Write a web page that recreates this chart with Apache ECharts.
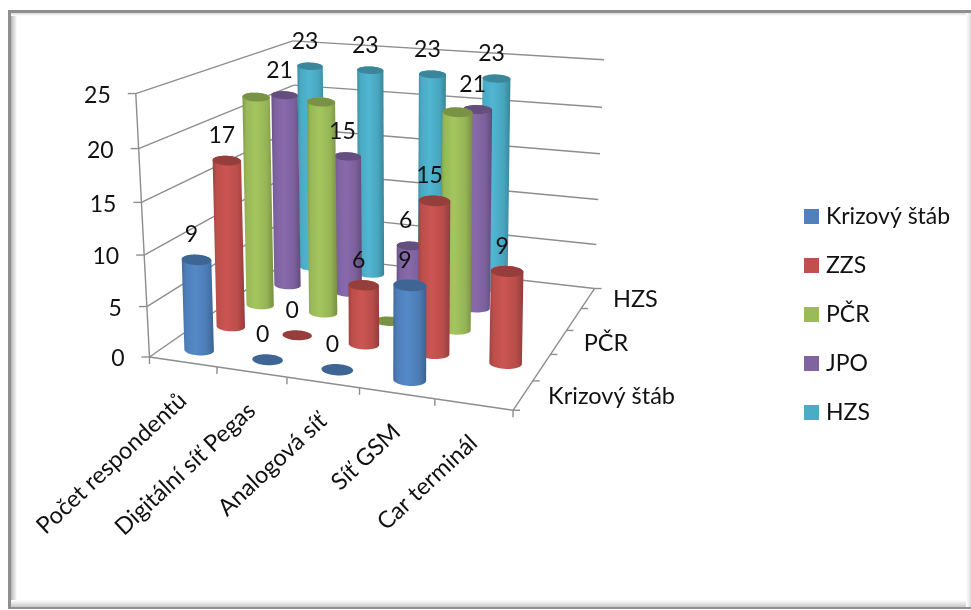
<!DOCTYPE html>
<html>
<head>
<meta charset="utf-8">
<style>html,body{margin:0;padding:0;background:#fff}#chart{width:971px;height:610px}</style>
<script src="https://cdn.jsdelivr.net/npm/echarts@6/dist/echarts.min.js"></script>
</head>
<body>
<div id="chart"></div>
<script>
// Chart data
const categories = ['Počet respondentů', 'Digitální síť Pegas', 'Analogová síť', 'Síť GSM', 'Car terminál'];
const seriesNames = ['Krizový štáb', 'ZZS', 'PČR', 'JPO', 'HZS'];
const krizovyStab = [9, 0, 0, 9, null];
const zzs = [17, 0, 6, 15, 9];
const pcr = [22, 22, 0, 22, null];
const jpo = [21, 15, 6, 21, null];
const hzs = [23, 23, 23, 23, null];
const valueTicks = [0, 5, 10, 15, 20, 25];
const depthLabels = ['Krizový štáb', '', 'PČR', '', 'HZS'];
const unlabelledSeries = ['PČR'];

const allValues = [krizovyStab, zzs, pcr, jpo, hzs];
const colors = ['#4F81BD', '#C0504D', '#9BBB59', '#8064A2', '#4BACC6'];
const FAMILY = 'Lato, "Open Sans", sans-serif';
const FONT_VALUE = '23px ' + FAMILY;
const FONT_TEXT = '23.5px ' + FAMILY;
const LINE = '#8d8d8d';

// Camera: a 3x4 projection fitted to the corners of the plot box.
// World axes are x (categories), y (depth) and z (value), each from 0 to 1.
// The front-left floor corner is listed several times to give it more weight.
const anchors = [
  [1, 0, 0, 513, 407], [1, 1, 0, 593, 291], [0, 1, 0, 300, 250],
  [0, 1, 1, 290, 43], [1, 1, 1, 605, 58],
  [0, 0, 0, 149, 358], [0, 0, 0, 149, 358], [0, 0, 0, 149, 358], [0, 0, 0, 149, 358],
  [0, 0, 0.2, 146, 307], [0, 0, 0.4, 144, 255],
  [0, 0, 0.6, 142, 202], [0, 0, 0.8, 140, 148], [0, 0, 1, 137, 93],
  [1, 1, 0.2, 597, 246], [1, 1, 0.6, 600, 154]
];
function fitCamera(points) {
  const n = 11;
  const A = Array.from({ length: n }, () => new Array(n + 1).fill(0));
  const add = (row, rhs) => {
    for (let i = 0; i < n; i++) {
      for (let j = 0; j < n; j++) A[i][j] += row[i] * row[j];
      A[i][n] += row[i] * rhs;
    }
  };
  points.forEach(([x, y, z, u, v]) => {
    add([x, y, z, 1, 0, 0, 0, 0, -u * x, -u * y, -u * z], u);
    add([0, 0, 0, 0, x, y, z, 1, -v * x, -v * y, -v * z], v);
  });
  for (let c = 0; c < n; c++) {
    let p = c;
    for (let r = c + 1; r < n; r++) if (Math.abs(A[r][c]) > Math.abs(A[p][c])) p = r;
    [A[c], A[p]] = [A[p], A[c]];
    for (let r = 0; r < n; r++) {
      if (r === c) continue;
      const f = A[r][c] / A[c][c];
      for (let k = c; k <= n; k++) A[r][k] -= f * A[c][k];
    }
  }
  return A.map((row, i) => row[n] / row[i]);
}
const cam = fitCamera(anchors);
function project(x, y, z) {
  const w = cam[8] * x + cam[9] * y + cam[10] * z + 1;
  return [
    (cam[0] * x + cam[1] * y + cam[2] * z + cam[3]) / w,
    (cam[4] * x + cam[5] * y + cam[6] * z + cam[7]) / w
  ];
}

// The hidden cartesian axes supply the scales; this turns their pixels into unit box coordinates.
function toUnit(params, api, cat, value) {
  const p = api.coord([cat, value]);
  const c = params.coordSys;
  return [(p[0] - c.x) / c.width, 1 - (p[1] - c.y) / c.height];
}
const depthOf = (i) => (i + 0.5) / seriesNames.length;
const lineEl = (a, b, w) => ({
  type: 'line', silent: true,
  shape: { x1: a[0], y1: a[1], x2: b[0], y2: b[1] },
  style: { stroke: LINE, lineWidth: w || 1.4 }
});
const textEl = (text, x, y, align, rotation, font) => ({
  type: 'text', silent: true, x, y, rotation: rotation || 0,
  style: { text, font: font || FONT_TEXT, fill: '#111', align: align || 'center', verticalAlign: 'middle' }
});

function shade(hex, k) {
  const n = parseInt(hex.slice(1), 16);
  const f = (v) => Math.max(0, Math.min(255, Math.round(v * k)));
  return 'rgb(' + f(n >> 16) + ',' + f((n >> 8) & 255) + ',' + f(n & 255) + ')';
}

// Ellipse outline around a projected centre, barely tilted along the category direction.
function arc(c, a, b, from, to, steps) {
  const out = [];
  for (let i = 0; i <= steps; i++) {
    const t = from + (to - from) * i / steps;
    out.push([c[0] + a[0] * Math.cos(t), c[1] + a[1] * Math.cos(t) + b * Math.sin(t)]);
  }
  return out;
}
const RADIUS_X = 0.0445;
const RADIUS_Y = 0.043;
const CAP_TILT = 0.3;
const LEAN = 0.7;
const NUDGE_Y = 1;

function renderCylinder(seriesIdx) {
  return function (params, api) {
    const cat = api.value(0);
    const [x, z] = toUnit(params, api, cat, api.value(1));
    const y = depthOf(seriesIdx);
    const floor = project(x, y, 0);
    const top = project(x, y, z);
    top[1] += NUDGE_Y;
    const base = [top[0] + (floor[0] - top[0]) * LEAN, floor[1] + NUDGE_Y];
    const px = project(x + RADIUS_X, y, 0);
    const a = [px[0] - floor[0], (px[1] - floor[1]) * CAP_TILT];
    const py = project(x, y + RADIUS_Y, 0);
    const b = Math.abs(py[1] - floor[1]);
    const color = colors[seriesIdx];
    const children = [];
    if (z > 0) {
      const body = arc(base, a, b, 0, Math.PI, 24).concat(arc(top, a, b, Math.PI, 2 * Math.PI, 24));
      children.push({
        type: 'polygon', silent: true, shape: { points: body },
        style: {
          fill: new echarts.graphic.LinearGradient(0, 0, 1, 0, [
            { offset: 0, color: shade(color, 0.82) },
            { offset: 0.12, color: shade(color, 0.98) },
            { offset: 0.42, color: shade(color, 1.06) },
            { offset: 0.78, color: shade(color, 0.96) },
            { offset: 1, color: shade(color, 0.76) }
          ])
        }
      });
    }
    children.push({
      type: 'polygon', silent: true,
      shape: { points: arc(top, a, b, 0, 2 * Math.PI, 48) },
      style: { fill: shade(color, 0.78) }
    });
    return { type: 'group', children };
  };
}

const cylinderSeries = seriesNames.map((name, i) => ({
  name,
  type: 'custom',
  coordinateSystem: 'cartesian2d',
  z: 10 - i,
  clip: false,
  itemStyle: { color: colors[i] },
  renderItem: renderCylinder(i),
  data: allValues[i].map((v, c) => [c, v]).filter((d) => d[1] !== null)
}));

// Walls, gridlines and the value axis with its labels
const gridSeries = {
  type: 'custom', coordinateSystem: 'cartesian2d', z: 1, clip: false, silent: true,
  renderItem(params, api) {
    const value = api.value(1);
    const z = toUnit(params, api, 0, value)[1];
    const a = project(0, 0, z), b = project(0, 1, z), c = project(1, 1, z);
    return {
      type: 'group',
      children: [
        lineEl(a, b), lineEl(b, c),
        lineEl([a[0] - 8, a[1]], a),
        textEl(String(value), a[0] - 25, a[1] + 2, 'right', 0, FONT_VALUE)
      ]
    };
  },
  data: valueTicks.map((v) => [0, v])
};

// Front box edges
const edgeSeries = {
  type: 'custom', coordinateSystem: 'cartesian2d', z: 1, clip: false, silent: true,
  renderItem() {
    return {
      type: 'group',
      children: [
        lineEl(project(0, 0, 0), project(0, 0, 1)),
        lineEl(project(0, 0, 0), project(1, 0, 0)),
        lineEl(project(1, 0, 0), project(1, 1, 0))
      ]
    };
  },
  data: [[0, 0]]
};

// Category ticks and slanted category labels along the front edge
const categorySeries = {
  type: 'custom', coordinateSystem: 'cartesian2d', z: 2, clip: false, silent: true,
  renderItem(params, api) {
    const i = api.value(0);
    const x = toUnit(params, api, i, 0)[0];
    const band = 1 / categories.length;
    const t0 = project(x - band / 2, 0, 0);
    const mid = project(x, 0, 0);
    const children = [lineEl(t0, [t0[0], t0[1] + 7])];
    if (i === categories.length - 1) {
      const t1 = project(1, 0, 0);
      children.push(lineEl(t1, [t1[0], t1[1] + 7]));
    }
    children.push(textEl(categories[i], mid[0], mid[1] + 35, 'right', 43 * Math.PI / 180));
    return { type: 'group', children };
  },
  data: categories.map((c, i) => [i, 0])
};

// Depth ticks and series labels along the right edge
const depthSeries = {
  type: 'custom', coordinateSystem: 'cartesian2d', z: 2, clip: false, silent: true,
  renderItem(params, api) {
    const i = api.value(0);
    const mid = project(1, depthOf(i), 0);
    const tick = project(1, i / seriesNames.length, 0);
    const children = [lineEl(tick, [tick[0] + 7, tick[1]])];
    if (i === seriesNames.length - 1) {
      const t1 = project(1, 1, 0);
      children.push(lineEl(t1, [t1[0] + 7, t1[1]]));
    }
    if (depthLabels[i]) children.push(textEl(depthLabels[i], mid[0] + 25, mid[1] + 1, 'left'));
    return { type: 'group', children };
  },
  data: seriesNames.map((n, i) => [i, 0])
};

// Value labels just above the cylinder tops
const labelRows = [];
allValues.forEach((vals, s) => {
  if (unlabelledSeries.includes(seriesNames[s])) return;
  vals.forEach((v, c) => { if (v !== null) labelRows.push([c, v, s]); });
});
const labelSeries = {
  type: 'custom', coordinateSystem: 'cartesian2d', z: 30, clip: false, silent: true,
  renderItem(params, api) {
    const value = api.value(1);
    const [x, z] = toUnit(params, api, api.value(0), value);
    const p = project(x, depthOf(api.value(2)), z);
    return textEl(String(value), p[0] - 5, p[1] - 24, 'center', 0, FONT_VALUE);
  },
  data: labelRows
};

// Picture frame with its soft inner shadow
const grad = (x0, y0, x1, y1, c0, c1) => new echarts.graphic.LinearGradient(x0, y0, x1, y1, [
  { offset: 0, color: c0 }, { offset: 1, color: c1 }
]);
const frame = [
  { type: 'rect', shape: { x: 8, y: 12, width: 3, height: 597 }, style: { fill: '#8f8f8f' } },
  { type: 'rect', shape: { x: 11, y: 12, width: 6, height: 592 }, style: { fill: grad(0, 0, 1, 0, '#b5b5b5', '#ffffff') } },
  { type: 'rect', shape: { x: 8, y: 10, width: 963, height: 3 }, style: { fill: '#8f8f8f' } },
  { type: 'rect', shape: { x: 11, y: 13, width: 960, height: 3 }, style: { fill: grad(0, 0, 0, 1, '#d8d8d8', '#ffffff') } },
  { type: 'rect', shape: { x: 11, y: 600, width: 960, height: 7 }, style: { fill: grad(0, 0, 0, 1, '#ffffff', '#c8c8c8') } },
  { type: 'rect', shape: { x: 8, y: 607, width: 963, height: 2 }, style: { fill: '#8f8f8f' } },
  { type: 'rect', shape: { x: 966, y: 13, width: 5, height: 594 }, style: { fill: grad(0, 0, 1, 0, '#ffffff', '#dcdcdc') } }
].map((e) => Object.assign({ silent: true, z: 0 }, e));

const chart = echarts.init(document.getElementById('chart'), null, { renderer: 'canvas' });
chart.setOption({
  animation: false,
  backgroundColor: '#fff',
  graphic: frame,
  grid: { left: 0, right: 0, top: 0, bottom: 0 },
  xAxis: { type: 'category', data: categories, show: false },
  yAxis: { type: 'value', min: 0, max: 25, interval: 5, show: false },
  legend: {
    data: seriesNames,
    orient: 'vertical',
    left: 804,
    top: 205,
    padding: 0,
    itemWidth: 15,
    itemHeight: 15,
    itemGap: 26,
    icon: 'rect',
    selectedMode: false,
    textStyle: { fontFamily: FAMILY, fontSize: 23, lineHeight: 15, color: '#111', padding: [0, 0, 0, 2] }
  },
  series: [gridSeries, edgeSeries, categorySeries, depthSeries].concat(cylinderSeries, [labelSeries])
});
</script>
</body>
</html>
